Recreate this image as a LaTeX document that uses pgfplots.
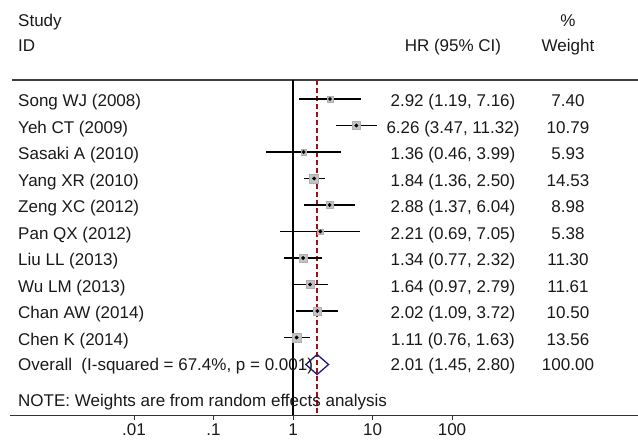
\documentclass[border=0pt]{standalone}
\usepackage{pgfplots}
\pgfplotsset{compat=1.18}
\usepackage{pgfplotstable}
\usepackage{fontspec}
\setmainfont{Liberation Sans}
\definecolor{refred}{RGB}{150,20,25}
\definecolor{refnavy}{RGB}{25,25,125}
\definecolor{boxgray}{RGB}{195,195,195}
\newcommand\fs{\fontsize{17}{20}\selectfont}
\pgfplotstableread{
y hr lo hi w
99 2.92 1.19 7.16 7.40
125.5 6.26 3.47 11.32 10.79
152 1.36 0.46 3.99 5.93
178.5 1.84 1.36 2.50 14.53
205 2.88 1.37 6.04 8.98
231.5 2.21 0.69 7.05 5.38
258 1.34 0.77 2.32 11.30
284.5 1.64 0.97 2.79 11.61
311 2.02 1.09 3.72 10.50
337.5 1.11 0.76 1.63 13.56
}\studies
\begin{document}
\begin{tikzpicture}[x=1pt,y=1pt]
\useasboundingbox (-10,-31) rectangle (628,415);
\begin{axis}[
  at={(0,0)}, anchor=south west,
  scale only axis, width=628pt, height=335pt,
  xmode=log, xmin=2.755e-4, xmax=21860,
  ymin=80, ymax=415, y dir=reverse,
  axis x line*=bottom, axis y line=none,
  x axis line style={-, line width=0.9pt, black!80},
  xtick={0.01,0.1,1,10,100},
  xticklabels={.01,.1,1,10,100},
  xminorticks=false,
  tick align=outside, major tick length=5pt,
  every tick/.style={black!80, line width=0.8pt},
  xticklabel style={font=\fs, text=black!90},
  clip=false,
  boxstyle/.style={only marks, mark=square*, mark options={fill=boxgray, draw=boxgray!90!black, line width=0.4pt}},
  cistyle/.style={black, line width=1.3pt},
]
% top separator
\addplot[black!75, line width=1.1pt] coordinates {(2.9e-4,80) (21860,80)};
% reference lines
\addplot[black, line width=1.4pt] coordinates {(1,80) (1,415)};
\addplot[refred, line width=1.3pt, dash pattern=on 5pt off 3pt] coordinates {(2.01,80) (2.01,415)};
% weight boxes (side proportional to sqrt of weight)
\addplot[boxstyle, mark size=3.26pt] coordinates {(2.92,99)};
\addplot[boxstyle, mark size=3.94pt] coordinates {(6.26,125.5)};
\addplot[boxstyle, mark size=2.92pt] coordinates {(1.36,152)};
\addplot[boxstyle, mark size=4.57pt] coordinates {(1.84,178.5)};
\addplot[boxstyle, mark size=3.60pt] coordinates {(2.88,205)};
\addplot[boxstyle, mark size=2.78pt] coordinates {(2.21,231.5)};
\addplot[boxstyle, mark size=4.03pt] coordinates {(1.34,258)};
\addplot[boxstyle, mark size=4.09pt] coordinates {(1.64,284.5)};
\addplot[boxstyle, mark size=3.89pt] coordinates {(2.02,311)};
\addplot[boxstyle, mark size=4.42pt] coordinates {(1.11,337.5)};
% CIs
\addplot[cistyle] coordinates {(1.19,99) (7.16,99)};
\addplot[cistyle] coordinates {(3.47,125.5) (11.32,125.5)};
\addplot[cistyle] coordinates {(0.46,152) (3.99,152)};
\addplot[cistyle] coordinates {(1.36,178.5) (2.50,178.5)};
\addplot[cistyle] coordinates {(1.37,205) (6.04,205)};
\addplot[cistyle] coordinates {(0.69,231.5) (7.05,231.5)};
\addplot[cistyle] coordinates {(0.77,258) (2.32,258)};
\addplot[cistyle] coordinates {(0.97,284.5) (2.79,284.5)};
\addplot[cistyle] coordinates {(1.09,311) (3.72,311)};
\addplot[cistyle] coordinates {(0.76,337.5) (1.63,337.5)};
% point estimates
\addplot[only marks, mark=*, mark size=1.7pt, black] table[x=hr, y=y]{\studies};
% overall diamond
\addplot[refnavy, line width=1.3pt, line join=miter] coordinates {(1.45,364.5) (2.01,354.5) (2.80,364.5) (2.01,374.5)} -- cycle;
% text
\def\xl{3.475e-4}
\def\xh{102.9}
\def\xw{2878}
\begin{scope}[every node/.style={font=\fs, inner sep=0pt, text=black!90}]
\node[anchor=base west] at (axis cs:\xl,27) {Study};
\node[anchor=base west] at (axis cs:\xl,52) {ID};
\node[anchor=base] at (axis cs:\xh,52) {HR (95\% CI)};
\node[anchor=base] at (axis cs:\xw,27) {\%};
\node[anchor=base] at (axis cs:\xw,52) {Weight};
\node[anchor=base west] at (axis cs:\xl,107) {Song WJ (2008)};
\node[anchor=base west] at (axis cs:\xl,133.5) {Yeh CT (2009)};
\node[anchor=base west] at (axis cs:\xl,160) {Sasaki A (2010)};
\node[anchor=base west] at (axis cs:\xl,186.5) {Yang XR (2010)};
\node[anchor=base west] at (axis cs:\xl,213) {Zeng XC (2012)};
\node[anchor=base west] at (axis cs:\xl,239.5) {Pan QX (2012)};
\node[anchor=base west] at (axis cs:\xl,266) {Liu LL (2013)};
\node[anchor=base west] at (axis cs:\xl,292.5) {Wu LM (2013)};
\node[anchor=base west] at (axis cs:\xl,319) {Chan AW (2014)};
\node[anchor=base west] at (axis cs:\xl,345.5) {Chen K (2014)};
\node[anchor=base west] at (axis cs:\xl,371) {Overall\ \ (I-squared = 67.4\%, p = 0.001)};
\node[anchor=base west] at (axis cs:\xl,407) {NOTE: Weights are from random effects analysis};
\node[anchor=base] at (axis cs:\xh,107) {2.92 (1.19, 7.16)};
\node[anchor=base] at (axis cs:\xh,133.5) {6.26 (3.47, 11.32)};
\node[anchor=base] at (axis cs:\xh,160) {1.36 (0.46, 3.99)};
\node[anchor=base] at (axis cs:\xh,186.5) {1.84 (1.36, 2.50)};
\node[anchor=base] at (axis cs:\xh,213) {2.88 (1.37, 6.04)};
\node[anchor=base] at (axis cs:\xh,239.5) {2.21 (0.69, 7.05)};
\node[anchor=base] at (axis cs:\xh,266) {1.34 (0.77, 2.32)};
\node[anchor=base] at (axis cs:\xh,292.5) {1.64 (0.97, 2.79)};
\node[anchor=base] at (axis cs:\xh,319) {2.02 (1.09, 3.72)};
\node[anchor=base] at (axis cs:\xh,345.5) {1.11 (0.76, 1.63)};
\node[anchor=base] at (axis cs:\xh,371) {2.01 (1.45, 2.80)};
\node[anchor=base] at (axis cs:\xw,107) {7.40};
\node[anchor=base] at (axis cs:\xw,133.5) {10.79};
\node[anchor=base] at (axis cs:\xw,160) {5.93};
\node[anchor=base] at (axis cs:\xw,186.5) {14.53};
\node[anchor=base] at (axis cs:\xw,213) {8.98};
\node[anchor=base] at (axis cs:\xw,239.5) {5.38};
\node[anchor=base] at (axis cs:\xw,266) {11.30};
\node[anchor=base] at (axis cs:\xw,292.5) {11.61};
\node[anchor=base] at (axis cs:\xw,319) {10.50};
\node[anchor=base] at (axis cs:\xw,345.5) {13.56};
\node[anchor=base] at (axis cs:\xw,371) {100.00};
\end{scope}
\end{axis}
\end{tikzpicture}
\end{document}
